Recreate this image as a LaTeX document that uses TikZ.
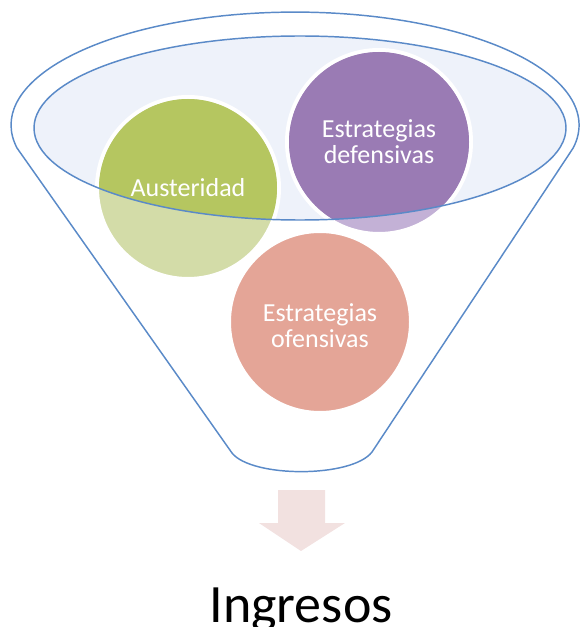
\documentclass[tikz,border=0pt]{standalone}
\usepackage{fontspec}
\setmainfont{Carlito}
\definecolor{funnelline}{HTML}{5A8AC8}
\definecolor{funnelfill}{HTML}{EEF2FA}
\definecolor{austdark}{HTML}{B5C660}
\definecolor{austlight}{HTML}{D3DCA8}
\definecolor{defdark}{HTML}{9A7BB4}
\definecolor{deflight}{HTML}{C3B1D6}
\definecolor{ofen}{HTML}{E4A597}
\definecolor{arrowfill}{HTML}{F2E1E0}

\begin{document}
\begin{tikzpicture}[x=0.75pt,y=-0.75pt,
    funnel/.style={draw=funnelline,line width=1.1pt},
    ball/.style={draw=white,line width=3pt},
    balltext/.style={text=white,align=center,font=\fontsize{19.5}{19.5}\selectfont}]
  \useasboundingbox (0,0) rectangle (579,627);
  % outer funnel
  \draw[funnel,fill=white] (17,148) arc[start angle=168.3,end angle=371.7,x radius=284,y radius=113]
    -- (372,452) .. controls (352,478) and (252,478) .. (232,453) -- cycle;
  % inner rim
  \fill[funnelfill] (300,128) ellipse[x radius=266,y radius=92];
  % balls
  \coordinate (c-aust) at (188,188);
  \coordinate (c-def) at (379,142);
  \coordinate (c-ofen) at (320,322);
  \filldraw[ball,fill=austlight] (c-aust) circle[radius=91];
  \filldraw[ball,fill=deflight] (c-def) circle[radius=92];
  \begin{scope}
    \clip (300,128) ellipse[x radius=266,y radius=92];
    \fill[austdark] (c-aust) circle[radius=89];
    \fill[defdark] (c-def) circle[radius=90];
  \end{scope}
  \filldraw[ball,fill=ofen] (c-ofen) circle[radius=91];
  \draw[funnel] (300,128) ellipse[x radius=266,y radius=92];
  \node[balltext] (aust) at (c-aust) {Austeridad};
  \node[balltext] (def) at (c-def) {Estrategias\\defensivas};
  \node[balltext] (ofen) at (320,326) {Estrategias\\ofensivas};
  % output
  \fill[arrowfill] (278,490) -- (325,490) -- (325,523) -- (345,523) -- (301,551)
    -- (259,523) -- (278,523) -- cycle;
  \node[anchor=base,font=\fontsize{40.5}{40.5}\selectfont] (ingresos) at (301,622) {Ingresos};
\end{tikzpicture}
\end{document}
